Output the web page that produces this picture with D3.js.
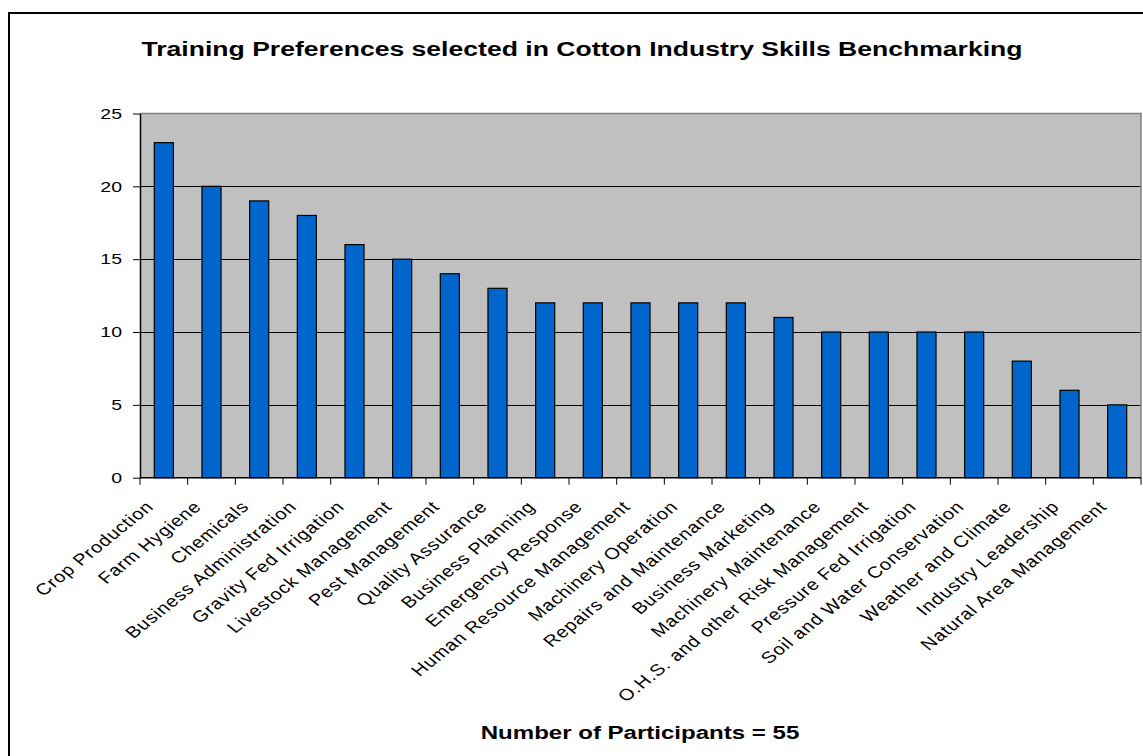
<!DOCTYPE html>
<html>
<head>
<meta charset="utf-8">
<script src="https://cdn.jsdelivr.net/npm/d3@7"></script>
<style>
  body { margin: 0; background: #fff; }
  svg text { font-family: "Liberation Sans", Arial, sans-serif; }
</style>
</head>
<body>
<div id="d3-container"></div>
<script>
const categories = [
  'Crop Production', 'Farm Hygiene', 'Chemicals', 'Business Administration',
  'Gravity Fed Irrigation', 'Livestock Management', 'Pest Management',
  'Quality Assurance', 'Business Planning', 'Emergency Response',
  'Human Resource Management', 'Machinery Operation', 'Repairs and Maintenance',
  'Business Marketing', 'Machinery Maintenance', 'O.H.S. and other Risk Management',
  'Pressure Fed Irrigation', 'Soil and Water Conservation', 'Weather and Climate',
  'Industry Leadership', 'Natural Area Management'
];
const participants = [23, 20, 19, 18, 16, 15, 14, 13, 12, 12, 12, 12, 12, 11, 10, 10, 10, 10, 8, 6, 5];
const yTicks = [0, 5, 10, 15, 20, 25];
const title = 'Training Preferences selected in Cotton Industry Skills Benchmarking';
const footer = 'Number of Participants = 55';

const width = 1143;
const height = 756;
const plot = { left: 140, right: 1141, top: 113.5, bottom: 477.7 };
const SX = 1.3; // the picture's text is stretched sideways
const SX_LABEL = 1.25;

const svg = d3.select('#d3-container')
  .append('svg')
  .attr('width', width)
  .attr('height', height);

// outer chart border (runs off the right and bottom)
svg.append('rect')
  .attr('x', 9).attr('y', 13)
  .attr('width', width + 20).attr('height', height + 20)
  .attr('fill', 'none')
  .attr('stroke', '#000')
  .attr('stroke-width', 2);

const x = d3.scaleBand()
  .domain(categories)
  .range([plot.left, plot.right])
  .paddingInner(0.6)
  .paddingOuter(0.3);

const y = d3.scaleLinear()
  .domain([0, 25])
  .range([plot.bottom, plot.top]);

svg.append('rect')
  .attr('x', plot.left).attr('y', plot.top)
  .attr('width', plot.right - plot.left)
  .attr('height', plot.bottom - plot.top)
  .attr('fill', '#c0c0c0');

// gridlines
svg.append('g')
  .selectAll('line')
  .data(yTicks.filter(d => d > 0 && d < 25))
  .join('line')
    .attr('x1', plot.left).attr('x2', plot.right)
    .attr('y1', d => Math.round(y(d)) + 0.5).attr('y2', d => Math.round(y(d)) + 0.5)
    .attr('stroke', '#000');

// grey top and right edge of plot area
svg.append('path')
  .attr('d', `M${plot.left},${y(25)}H${plot.right}V${plot.bottom}`)
  .attr('fill', 'none')
  .attr('stroke', '#808080')
  .attr('stroke-width', 1.5);

svg.append('g')
  .attr('fill', '#0066cc')
  .attr('stroke', '#000')
  .attr('stroke-width', 1.2)
  .selectAll('rect')
  .data(participants)
  .join('rect')
    .attr('x', (d, i) => x(categories[i]))
    .attr('y', d => y(d))
    .attr('width', x.bandwidth())
    .attr('height', d => y(0) - y(d));

// y axis
const yAxis = svg.append('g')
  .attr('transform', `translate(${plot.left},0)`)
  .call(d3.axisLeft(y).tickValues(yTicks).tickSize(7).tickPadding(11).tickSizeOuter(0));
yAxis.select('.domain').attr('stroke', '#000').attr('stroke-width', 1.5);
yAxis.selectAll('.tick line').attr('stroke', '#000');
yAxis.selectAll('.tick text')
  .attr('font-size', '15px')
  .attr('fill', '#000')
  .attr('x', -18 / SX)
  .attr('transform', `scale(${SX},1)`);

// x axis: baseline and ticks between categories
const step = x.step();
svg.append('line')
  .attr('x1', plot.left).attr('x2', plot.right)
  .attr('y1', plot.bottom).attr('y2', plot.bottom)
  .attr('stroke', '#000').attr('stroke-width', 1.5);
svg.append('g')
  .selectAll('line')
  .data(d3.range(categories.length + 1))
  .join('line')
    .attr('x1', i => plot.left + i * step).attr('x2', i => plot.left + i * step)
    .attr('y1', plot.bottom).attr('y2', plot.bottom + 7)
    .attr('stroke', '#000');

svg.append('g')
  .selectAll('text')
  .data(categories)
  .join('text')
    .attr('text-anchor', 'end')
    .attr('font-size', '16px')
    .attr('letter-spacing', '0.7px')
    .attr('fill', '#000')
    .attr('transform', d => `translate(${x(d) + x.bandwidth() / 2 - 9},${plot.bottom + 30}) scale(${SX_LABEL},1) rotate(-45)`)
    .text(d => d);

svg.append('text')
  .attr('text-anchor', 'middle')
  .attr('font-size', '21px')
  .attr('font-weight', 'bold')
  .attr('transform', `translate(582,56) scale(1.265,1)`)
  .text(title);

svg.append('text')
  .attr('text-anchor', 'middle')
  .attr('font-size', '18.5px')
  .attr('font-weight', 'bold')
  .attr('transform', `translate(640,739) scale(${SX},1)`)
  .text(footer);
</script>
</body>
</html>
